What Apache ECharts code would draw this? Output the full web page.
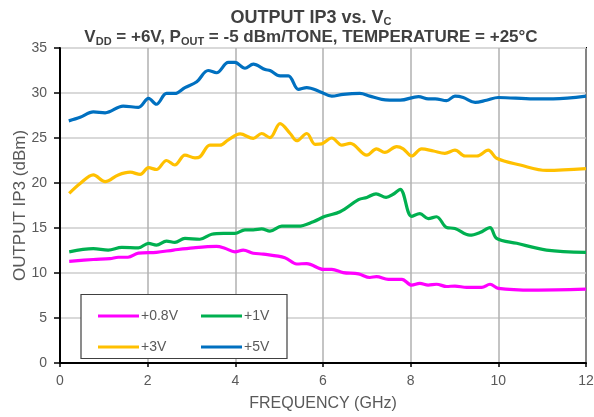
<!DOCTYPE html>
<html>
<head>
<meta charset="utf-8">
<script src="https://cdn.jsdelivr.net/npm/echarts@6/dist/echarts.min.js"></script>
<style>
html, body { margin: 0; padding: 0; background: #fff; }
#chart { width: 594px; height: 417px; }
</style>
</head>
<body>
<div id="chart"></div>
<script>
var seriesNames = ['+0.8V', '+1V', '+3V', '+5V'];
var seriesColors = ['#ff00ff', '#00b050', '#ffc000', '#0070c0'];

var magentaFreq = [0.21, 0.76, 1.14, 1.33, 1.55, 1.79, 2.2, 2.59, 3.04, 3.57, 3.76, 3.99, 4.18, 4.41, 4.64, 5.13, 5.4, 5.63, 6.01, 6.2, 6.46, 6.81, 7.07, 7.22, 7.49, 7.8, 8.02, 8.21, 8.4, 8.59, 8.82, 9.01, 9.28, 9.62, 9.81, 10.0, 10.8, 12.0];
var magentaVal = [11.3, 11.5, 11.6, 11.75, 11.75, 12.2, 12.3, 12.55, 12.8, 12.95, 12.75, 12.35, 12.55, 12.2, 12.1, 11.7, 11.0, 11.05, 10.4, 10.4, 10.05, 9.9, 9.5, 9.6, 9.3, 9.3, 8.65, 8.85, 8.65, 8.75, 8.5, 8.55, 8.4, 8.4, 8.75, 8.3, 8.1, 8.2];

var greenFreq = [0.21, 0.76, 1.1, 1.41, 1.79, 2.02, 2.2, 2.43, 2.62, 2.85, 3.19, 3.46, 3.73, 3.99, 4.22, 4.41, 4.6, 4.79, 5.06, 5.44, 5.78, 6.05, 6.39, 6.81, 7.0, 7.21, 7.44, 7.6, 7.76, 8.02, 8.21, 8.4, 8.59, 8.82, 9.01, 9.35, 9.58, 9.81, 9.96, 10.42, 11.1, 12.0];
var greenVal = [12.35, 12.7, 12.55, 12.85, 12.8, 13.3, 13.1, 13.55, 13.4, 13.85, 13.75, 14.3, 14.4, 14.4, 14.8, 14.8, 14.9, 14.65, 15.2, 15.2, 15.7, 16.3, 16.8, 18.15, 18.4, 18.8, 18.4, 18.75, 19.3, 16.3, 16.6, 16.05, 16.25, 15.05, 14.95, 14.2, 14.5, 15.05, 13.85, 13.3, 12.55, 12.3];

var yellowFreq = [0.21, 0.46, 0.76, 1.03, 1.33, 1.6, 1.83, 2.02, 2.2, 2.43, 2.62, 2.85, 3.08, 3.19, 3.42, 3.65, 3.84, 4.11, 4.41, 4.6, 4.79, 5.02, 5.25, 5.4, 5.63, 5.82, 5.97, 6.2, 6.43, 6.62, 7.0, 7.22, 7.41, 7.68, 7.83, 8.02, 8.25, 8.52, 8.78, 9.01, 9.24, 9.51, 9.77, 9.96, 10.5, 11.1, 12.0];
var yellowVal = [18.85, 19.95, 20.9, 20.15, 20.9, 21.2, 20.95, 21.7, 21.5, 22.5, 22.0, 23.1, 22.8, 22.9, 24.2, 24.2, 24.8, 25.45, 24.95, 25.5, 25.05, 26.6, 25.5, 24.7, 25.5, 24.3, 24.35, 25.0, 24.2, 24.4, 23.1, 23.8, 23.4, 24.05, 23.8, 23.0, 23.8, 23.55, 23.3, 23.65, 23.0, 23.0, 23.65, 22.75, 22.0, 21.4, 21.6];

var blueFreq = [0.2, 0.46, 0.76, 1.03, 1.44, 1.79, 2.02, 2.2, 2.43, 2.62, 2.85, 3.12, 3.38, 3.57, 3.84, 3.99, 4.22, 4.41, 4.68, 4.79, 5.02, 5.21, 5.44, 5.63, 5.93, 6.2, 6.46, 6.84, 7.07, 7.34, 7.76, 8.18, 8.4, 8.56, 8.82, 9.01, 9.2, 9.47, 9.73, 10.0, 10.8, 11.25, 12.0];
var blueVal = [26.9, 27.3, 27.9, 27.8, 28.55, 28.4, 29.4, 28.75, 29.95, 29.95, 30.6, 31.25, 32.5, 32.25, 33.4, 33.4, 32.75, 33.2, 32.6, 32.5, 31.9, 31.9, 30.4, 30.6, 30.15, 29.65, 29.85, 29.95, 29.65, 29.3, 29.2, 29.6, 29.35, 29.35, 29.15, 29.65, 29.5, 28.95, 29.2, 29.5, 29.35, 29.35, 29.65];

var xTicks = [0, 2, 4, 6, 8, 10, 12];
var yTicks = [0, 5, 10, 15, 20, 25, 30, 35];

function pairs(fs, vs) {
    return fs.map(function (f, i) { return [f, vs[i]]; });
}

var allFreq = [magentaFreq, greenFreq, yellowFreq, blueFreq];
var allVal = [magentaVal, greenVal, yellowVal, blueVal];

var myChart = echarts.init(document.getElementById('chart'));
var textColor = '#595959';
var font = 'Liberation Sans, Arial, sans-serif';

function legendCol(left, names) {
    return {
        left: left, top: 304, orient: 'vertical', z: 10,
        data: names,
        itemWidth: 41, itemHeight: 3, itemGap: 17, icon: 'rect',
        textStyle: { color: textColor, fontSize: 14, fontFamily: font, padding: [0, 0, 0, -3] }
    };
}

var option = {
    animation: false,
    textStyle: { fontFamily: font },
    title: {
        left: 306,
        top: 3,
        textAlign: 'center',
        text: '{h|OUTPUT IP3 vs. V}{s|C}\n{b|V}{s|DD}{b| = +6V, P}{s|OUT}{b| = -5 dBm/TONE, TEMPERATURE = +25°C}',
        textStyle: {
            rich: {
                h: { fontSize: 18, fontWeight: 'bold', color: '#404040', fontFamily: font, lineHeight: 19.5 },
                b: { fontSize: 17, fontWeight: 'bold', color: '#404040', fontFamily: font, lineHeight: 19.5 },
                s: { fontSize: 11, fontWeight: 'bold', color: '#404040', fontFamily: font, verticalAlign: 'bottom', lineHeight: 13 }
            }
        }
    },
    grid: {
        left: 60, right: 8, top: 48, bottom: 54,
        containLabel: false, outerBoundsMode: 'none',
        show: true, borderColor: '#000', borderWidth: 2
    },
    legend: [legendCol(93, [seriesNames[0], seriesNames[2]]), legendCol(196, [seriesNames[1], seriesNames[3]])],
    graphic: [{
        type: 'rect', z: 3,
        shape: { x: 81, y: 294.5, width: 206, height: 64 },
        style: { fill: '#fff', stroke: '#404040', lineWidth: 1.2 }
    }],
    xAxis: {
        type: 'value', min: xTicks[0], max: xTicks[xTicks.length - 1], interval: 2,
        name: 'FREQUENCY (GHz)', nameLocation: 'middle', nameGap: 33, nameMoveOverlap: false,
        nameTextStyle: { color: textColor, fontSize: 16, fontFamily: font },
        axisLine: { onZero: false, lineStyle: { color: '#000', width: 2 } },
        axisTick: { show: true, length: 4, lineStyle: { color: '#000', width: 1.5 } },
        axisLabel: { color: textColor, fontSize: 14, margin: 11, fontFamily: font },
        splitLine: { show: true, lineStyle: { color: '#b0b0b0', width: 1.5 } }
    },
    yAxis: {
        type: 'value', min: yTicks[0], max: yTicks[yTicks.length - 1], interval: 5,
        name: 'OUTPUT IP3 (dBm)', nameLocation: 'middle', nameGap: 31, nameMoveOverlap: false,
        nameTextStyle: { color: textColor, fontSize: 17, fontFamily: font },
        axisLine: { show: true, lineStyle: { color: '#000', width: 2 } },
        axisTick: { show: true, length: 6, lineStyle: { color: '#000', width: 1.5 } },
        axisLabel: { color: textColor, fontSize: 14, margin: 13, fontFamily: font },
        splitLine: { show: true, lineStyle: { color: '#d9d9d9', width: 2 } }
    },
    series: seriesNames.map(function (name, k) {
        return {
            name: name,
            type: 'line',
            smooth: 0.35,
            showSymbol: false,
            symbol: 'none',
            z: 3 + k,
            itemStyle: { color: seriesColors[k] },
            lineStyle: { color: seriesColors[k], width: 3.2 },
            data: pairs(allFreq[k], allVal[k])
        };
    })
};
myChart.setOption(option);
</script>
</body>
</html>
